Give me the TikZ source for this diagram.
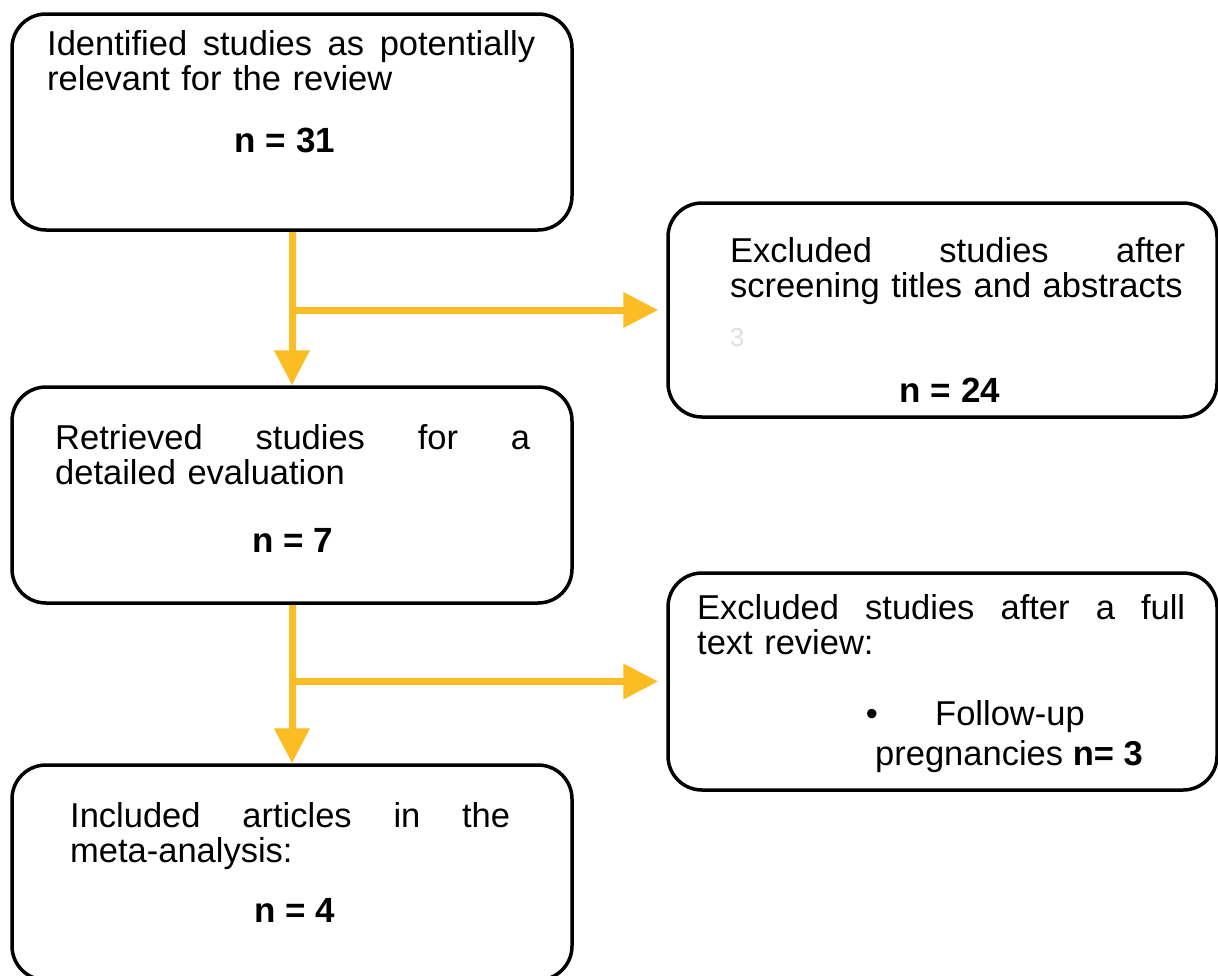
\documentclass[tikz,border=0pt]{standalone}
\usepackage{fontspec}
\setmainfont{Liberation Sans}
\usetikzlibrary{arrows.meta,calc}
\definecolor{flowyellow}{RGB}{252,188,36}
\begin{document}
\begin{tikzpicture}[x=1pt,y=-1pt,
  box/.style={draw=black, line width=3.5pt, rounded corners=34pt, inner sep=0pt},
  txt/.style={anchor=north west, inner sep=0pt, align=left, font=\fontsize{34.5}{35.5}\selectfont},
  num/.style={inner sep=0pt, font=\fontsize{35}{36}\selectfont\bfseries},
  plain/.style={inner sep=0pt, font=\fontsize{34.5}{35.5}\selectfont},
  flow/.style={draw=flowyellow, line width=7pt},
  flowarrow/.style={flow, -{Triangle[width=34pt,length=35pt]}}]
\useasboundingbox (0,0) rectangle (1218,975);
\clip (0,0) rectangle (1218,975);
\fill[white] (0,0) rectangle (1218,975);

% boxes
\node[box, minimum width=560pt, minimum height=216pt] (b1) at (292,122) {};
\node[box, minimum width=549pt, minimum height=214pt] (b2) at (942.5,310) {};
\node[box, minimum width=560pt, minimum height=216pt] (b3) at (292,495) {};
\node[box, minimum width=549pt, minimum height=217pt] (b4) at (942.5,681.5) {};
\node[box, minimum width=560pt, minimum height=215pt] (b5) at (292,872.5) {};

% texts
\node[txt, text width=488pt] (t1) at (47,30) {Identified\hfill studies\hfill as\hfill potentially\\relevant for the review};
\node[num] (n1) at (285,140) {n = 31};

\node[txt, text width=455pt] (t2) at (730,237) {Excluded\hfill studies\hfill after\\screening titles and abstracts};
\node[inner sep=0pt, text=black!12, font=\fontsize{26}{28}\selectfont] (g2) at (737,338) {3};
\node[num] (n2) at (950,390) {n = 24};

\node[txt, text width=475pt] (t3) at (55,424) {Retrieved\hfill studies\hfill for\hfill a\\detailed evaluation};
\node[num] (n3) at (293,540) {n = 7};

\node[txt, text width=488pt] (t4) at (697,594) {Excluded\hfill studies\hfill after\hfill a\hfill full\\text review:};
\node[plain, anchor=base] (bul) at (872,725) {•};
\node[plain, anchor=base west] (t4b) at (935,725) {Follow-up};
\node[plain, anchor=base west] (t4c) at (875,765) {pregnancies \textbf{n= 3}};

\node[txt, text width=440pt] (t5) at (70,802) {Included\hfill articles\hfill in\hfill the\\meta-analysis:};
\node[num] (n5) at (295,910) {n = 4};

% connectors
\coordinate (j1) at (b1.south |- b2.west);
\coordinate (j2) at (b3.south |- b4.west);
\draw[flowarrow] (b1.south) -- (b3.north);
\draw[flowarrow] (j1) -- ([xshift=-8pt]b2.west);
\draw[flowarrow] (b3.south) -- (b5.north);
\draw[flowarrow] (j2) -- ([xshift=-8pt]b4.west);
\end{tikzpicture}
\end{document}
